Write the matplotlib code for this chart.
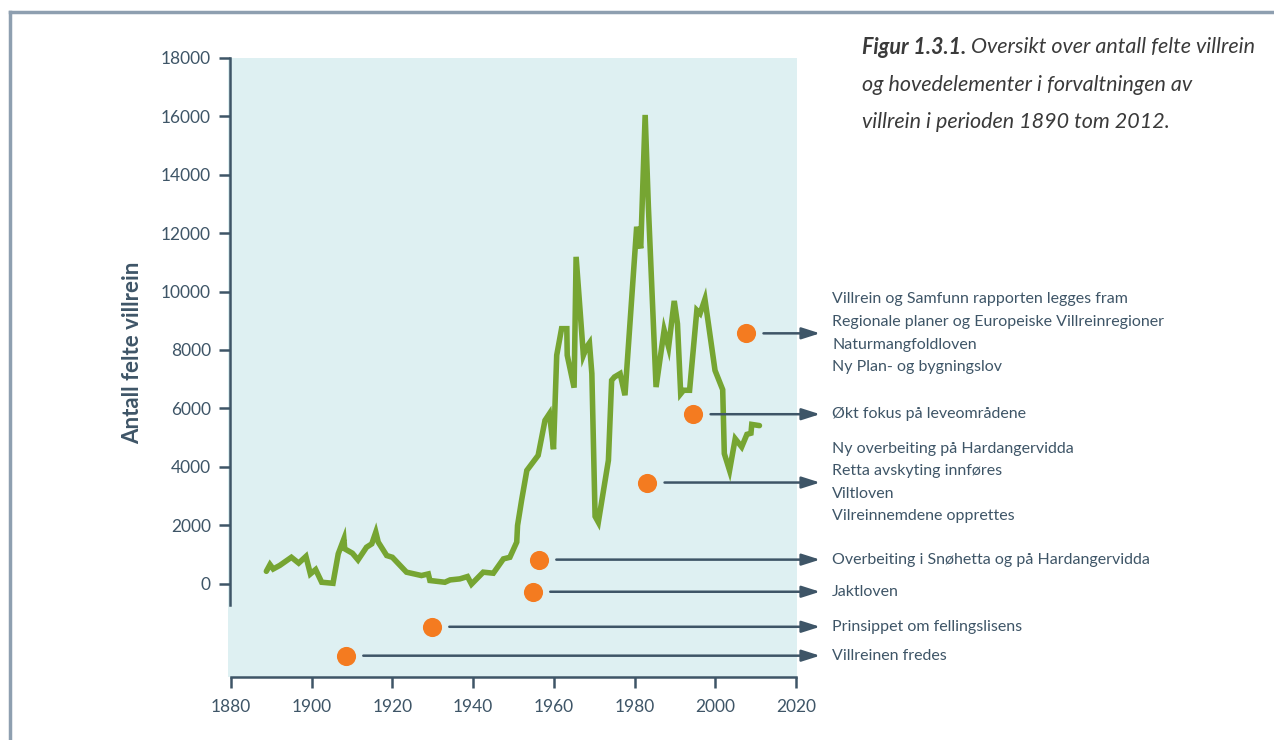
import matplotlib.pyplot as plt
from matplotlib.lines import Line2D

# =========================================================
# DATA
# =========================================================

years = [1888.8, 1889.7, 1890.5, 1892.1, 1895.0, 1896.8, 1898.6, 1899.7,
         1901.0, 1902.5, 1905.3, 1906.6, 1908.0, 1908.2, 1910.1, 1911.5,
         1913.6, 1914.9, 1915.9, 1916.5, 1918.6, 1920.0, 1923.5, 1927.2,
         1928.9, 1929.3, 1933.0, 1934.3, 1936.7, 1938.6, 1939.6, 1942.5,
         1945.0, 1947.5, 1949.1, 1950.8, 1951.0, 1952.0, 1953.3, 1956.1,
         1957.8, 1958.9, 1959.9, 1960.7, 1961.9, 1963.2, 1963.3, 1965.0,
         1965.5, 1967.3, 1968.1, 1968.8, 1969.4, 1970.2, 1971.0, 1973.5,
         1974.3, 1975.0, 1976.4, 1977.6, 1980.5, 1981.5, 1982.6, 1983.4,
         1985.3, 1987.3, 1988.4, 1989.8, 1990.6, 1991.4, 1992.1, 1993.6,
         1995.4, 1996.2, 1997.4, 1999.9, 2001.8, 2002.2, 2003.5, 2004.9,
         2006.5, 2007.8, 2008.8, 2009.0, 2010.9]

felte = [420, 650, 500, 620, 900, 700, 930, 330,
         480, 45, 10, 1020, 1530, 1190, 1040, 810,
         1245, 1360, 1760, 1420, 960, 900, 390, 275,
         330, 105, 45, 125, 160, 240, -20, 390,
         355, 845, 900, 1420, 1990, 2850, 3875, 4390,
         5590, 5820, 4600, 7820, 8730, 8730, 7820, 6710,
         11190, 7820, 8100, 8240, 7190, 2300, 2100, 4220,
         6960, 7075, 7190, 6450, 12220, 11480, 16050, 12900,
         6730, 8680, 8100, 9680, 8900, 6500, 6620, 6620,
         9360, 9250, 9740, 7300, 6640, 4450, 3875, 4960,
         4680, 5110, 5150, 5450, 5410]

event_years = [2007.6, 1994.5, 1983.1, 1956.3, 1954.8, 1929.8, 1908.5]
event_pos = [8570, 5800, 3460, 820, -280, -1480, -2470]
event_text = [
    "Villrein og Samfunn rapporten legges fram\n"
    "Regionale planer og Europeiske Villreinregioner\n"
    "Naturmangfoldloven\n"
    "Ny Plan- og bygningslov",
    "Økt fokus på leveområdene",
    "Ny overbeiting på Hardangervidda\n"
    "Retta avskyting innføres\n"
    "Viltloven\n"
    "Vilreinnemdene opprettes",
    "Overbeiting i Snøhetta og på Hardangervidda",
    "Jaktloven",
    "Prinsippet om fellingslisens",
    "Villreinen fredes",
]

x_ticks = list(range(1880, 2021, 20))
y_ticks = list(range(0, 18001, 2000))

caption_head = "Figur 1.3.1."
caption_lines = [
    " Oversikt over antall felte villrein",
    "og hovedelementer i forvaltningen av",
    "villrein i perioden 1890 tom 2012.",
]

# =========================================================
# STYLE
# =========================================================

plt.rcParams['font.family'] = ['Lato', 'DejaVu Sans']

DARK = "#3e5567"
GREEN = "#76a532"
ORANGE = "#f47b20"
BG = "#def0f2"
CAPTION = "#3a3a3a"

W, H = 1274, 740

fig = plt.figure(figsize=(W / 100, H / 100), dpi=100)

# frame around the figure (top and left only visible)
fig.add_artist(Line2D([10 / W, 1], [1 - 12 / H, 1 - 12 / H],
                      color="#8e9fb0", lw=2.5, transform=fig.transFigure))
fig.add_artist(Line2D([10 / W, 10 / W], [0, 1 - 12 / H],
                      color="#8e9fb0", lw=2.5, transform=fig.transFigure))

ax = fig.add_axes([228 / W, 1 - 677 / H, (797 - 228) / W, (677 - 58) / H])
ax.set_facecolor(BG)

ax.set_xlim(1879.3, 2020.2)
ax.set_ylim(-3200, 18000)

# =========================================================
# LINE + EVENTS
# =========================================================

ax.plot(years, felte, color=GREEN, lw=4.0, solid_joinstyle="miter",
        solid_capstyle="round", zorder=3)

arrow_end = 2025.9
text_x = 2028.9

for yr, pos, txt in zip(event_years, event_pos, event_text):

    ax.scatter(yr, pos, s=190, color=ORANGE, zorder=4, linewidths=0)

    ax.annotate(
        "",
        xy=(arrow_end, pos),
        xytext=(yr + 4.3, pos),
        arrowprops=dict(arrowstyle="-|>,head_length=1.1,head_width=0.35",
                        color=DARK, lw=1.8, shrinkA=0, shrinkB=0),
        annotation_clip=False,
    )

    ax.text(text_x, pos, txt, ha="left", va="center", fontsize=11.5,
            color=DARK, linespacing=1.78, clip_on=False)

# =========================================================
# AXES
# =========================================================

for side in ["top", "right"]:
    ax.spines[side].set_visible(False)

ax.spines["left"].set_color(DARK)
ax.spines["left"].set_linewidth(1.8)
ax.spines["left"].set_bounds(-750, 18000)
ax.spines["left"].set_position(("data", 1879.9))

ax.spines["bottom"].set_color(DARK)
ax.spines["bottom"].set_linewidth(1.8)
ax.spines["bottom"].set_bounds(1880, 2020)

ax.set_xticks(x_ticks)
ax.set_yticks(y_ticks)

ax.tick_params(axis="both", colors=DARK, labelcolor=DARK, width=1.8,
               length=8, direction="out", labelsize=12.5)
ax.tick_params(axis="x", pad=8)
ax.tick_params(axis="y", pad=6)

ax.set_ylabel("Antall felte villrein", fontsize=16, fontweight="bold",
              color=DARK)
ax.yaxis.set_label_coords((143 - 228) / 569, (677 - 353) / 619)

# =========================================================
# CAPTION
# =========================================================

cap_x = 862 / W
line_y = [47, 85, 122]
cap_size = 15.5

head = fig.text(cap_x, 1 - line_y[0] / H, caption_head, fontsize=cap_size,
                color=CAPTION, style="italic", fontweight="bold",
                ha="left", va="center")

renderer = fig.canvas.get_renderer()
head_w = head.get_window_extent(renderer).width

fig.text(cap_x + head_w / W, 1 - line_y[0] / H, caption_lines[0],
         fontsize=cap_size, color=CAPTION, style="italic",
         ha="left", va="center")

for ly, txt in zip(line_y[1:], caption_lines[1:]):
    fig.text(cap_x, 1 - ly / H, txt, fontsize=cap_size, color=CAPTION,
             style="italic", ha="left", va="center")

fig.savefig("out.png", dpi=100)
